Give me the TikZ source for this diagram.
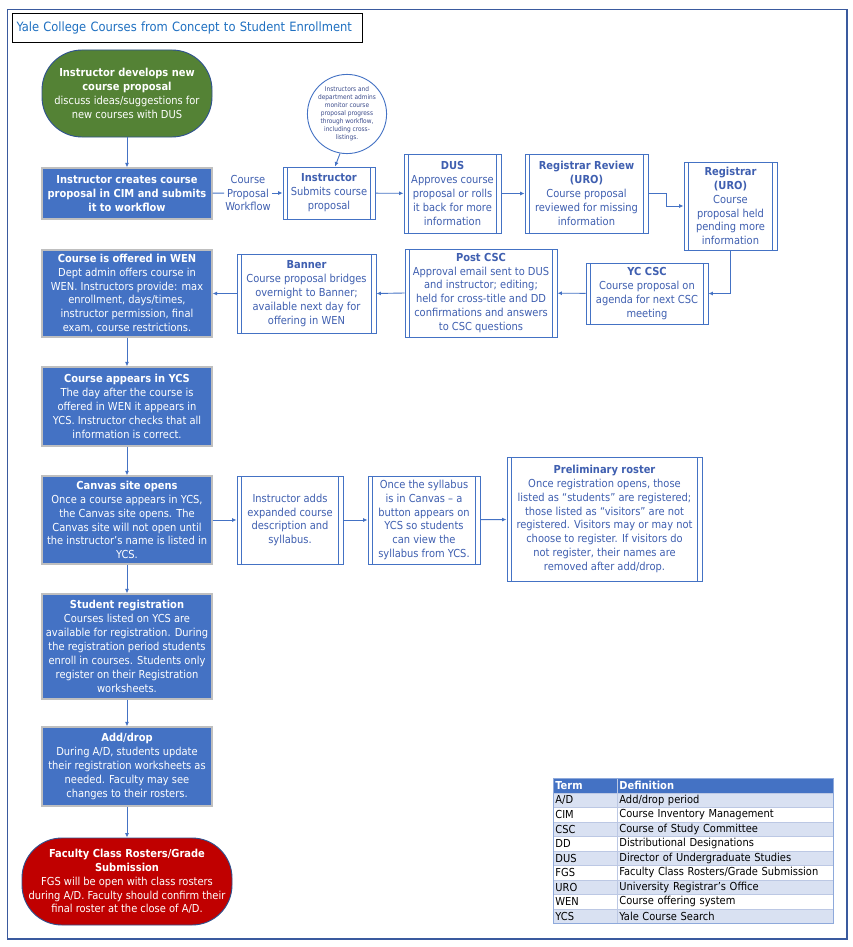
\documentclass[tikz,border=0pt]{standalone}
\usepackage{fontspec}
\setmainfont{DejaVu Sans Condensed}
\usetikzlibrary{arrows.meta,shapes.geometric,calc}
\definecolor{bfill}{HTML}{4472C4}
\definecolor{bgray}{HTML}{BFBFBF}
\definecolor{bcol}{HTML}{4472C4}
\definecolor{tcol}{HTML}{3F5FB0}
\definecolor{ccol}{HTML}{3A4A8A}
\definecolor{lcol}{HTML}{4472C4}
\definecolor{gfill}{HTML}{548235}
\definecolor{rfill}{HTML}{C00000}
\definecolor{sborder}{HTML}{2F528F}
\definecolor{titlecol}{HTML}{1F70C1}
\definecolor{framecol}{HTML}{3A5A9E}
\definecolor{lrow}{HTML}{D9E1F2}
\definecolor{lgrid}{HTML}{BCC8E4}
\definecolor{lout}{HTML}{8EA9DB}
\newcommand\mybody{\fontsize{11}{13.9}\selectfont}
\newcommand\mysmall{\fontsize{6.5}{8}\selectfont}
\newcommand\mytitle{\fontsize{12.8}{15}\selectfont}
\newcommand\mylegend{\fontsize{11}{12}\selectfont}
\tikzset{
  bluebox/.style={rectangle, fill=bfill, draw=bgray, line width=1.2pt, text=white, align=center, inner sep=1pt, font=\mybody},
  ppbox/.style={rectangle, draw=bcol, line width=0.9pt, fill=white, text=tcol, align=center, inner sep=1pt, font=\mybody,
    path picture={\draw[bcol, line width=0.9pt]
      ([xshift=4.5pt]path picture bounding box.north west) -- ([xshift=4.5pt]path picture bounding box.south west)
      ([xshift=-4.5pt]path picture bounding box.north east) -- ([xshift=-4.5pt]path picture bounding box.south east);}},
  stadium/.style={rectangle, rounded corners=40pt, draw=sborder, line width=0.9pt, text=white, align=center, inner sep=1pt, font=\mybody},
  arr/.style={draw=lcol, line width=0.9pt, -{Latex[length=4.5pt,width=4pt]}},
  tcell/.style={rectangle, draw=lgrid, line width=0.8pt, anchor=north west, minimum height=14.5pt, inner ysep=0pt, inner xsep=2pt, align=left, font=\mylegend, text=black},
}
\begin{document}
\begin{tikzpicture}[x=1pt,y=-1pt]
\useasboundingbox (0,0) rectangle (853,947);
\fill[white] (0,0) rectangle (853,947);
\draw[framecol, line width=1.1pt] (7.5,9.5) rectangle (847,939);

\node[draw=black, line width=1pt, anchor=north west, minimum height=29pt, text width=342pt, inner xsep=4pt, align=left, text=titlecol, font=\mytitle] (title) at (12,13) {Yale College Courses from Concept to Student Enrollment};

% left column
\node[stadium, fill=gfill, minimum width=170pt, minimum height=87pt] (start) at (127,93.5)
  {\textbf{Instructor develops new}\\\textbf{course proposal}\\discuss ideas/suggestions for\\new courses with DUS};
\node[bluebox, minimum width=170pt, minimum height=51pt] (cim) at (127,193.5)
  {\textbf{Instructor creates course}\\\textbf{proposal in CIM and submits}\\\textbf{it to workflow}};
\node[bluebox, minimum width=170pt, minimum height=87pt] (wen) at (127,293.5)
  {\textbf{Course is offered in WEN}\\Dept admin offers course in\\WEN. Instructors provide: max\\enrollment, days/times,\\instructor permission, final\\exam, course restrictions.};
\node[bluebox, minimum width=170pt, minimum height=79pt] (ycs) at (127,406.5)
  {\textbf{Course appears in YCS}\\The day after the course is\\offered in WEN it appears in\\YCS. Instructor checks that all\\information is correct.};
\node[bluebox, minimum width=170pt, minimum height=88pt] (canvas) at (127,520)
  {\textbf{Canvas site opens}\\Once a course appears in YCS,\\the Canvas site opens. The\\Canvas site will not open until\\the instructor’s name is listed in\\YCS.};
\node[bluebox, minimum width=170pt, minimum height=105pt] (stureg) at (127,646.5)
  {\textbf{Student registration}\\Courses listed on YCS are\\available for registration. During\\the registration period students\\enroll in courses. Students only\\register on their Registration\\worksheets.};
\node[bluebox, minimum width=170pt, minimum height=79pt] (adddrop) at (127,766.5)
  {\textbf{Add/drop}\\During A/D, students update\\their registration worksheets as\\needed. Faculty may see\\changes to their rosters.};
\node[stadium, fill=rfill, minimum width=210pt, minimum height=87pt] (fgs) at (127,881.5)
  {\textbf{Faculty Class Rosters/Grade}\\\textbf{Submission}\\FGS will be open with class rosters\\during A/D. Faculty should confirm their\\final roster at the close of A/D.};

% top row
\node[text=tcol, font=\mybody, align=center, inner sep=1pt] (lbl) at (248,193) {Course\\Proposal\\Workflow};
\node[ppbox, minimum width=92pt, minimum height=52pt] (instr) at (329,193)
  {\textbf{Instructor}\\Submits course\\proposal};
\node[circle, draw=bcol, line width=0.9pt, fill=white, minimum size=76pt, inner sep=0pt, text=ccol, align=center, font=\mysmall] (circ) at (347,114)
  {Instructors and\\department admins\\monitor course\\proposal progress\\through workflow,\\including cross-\\listings.};
\node[ppbox, minimum width=97pt, minimum height=79pt] (dus) at (452.5,193.5)
  {\textbf{DUS}\\Approves course\\proposal or rolls\\it back for more\\information};
\node[ppbox, minimum width=123pt, minimum height=79pt] (regrev) at (586.5,193.5)
  {\textbf{Registrar Review}\\\textbf{(URO)}\\Course proposal\\reviewed for missing\\information};
\node[ppbox, minimum width=93pt, minimum height=88pt] (reguro) at (730.5,206)
  {\textbf{Registrar}\\\textbf{(URO)}\\Course\\proposal held\\pending more\\information};

% second row
\node[ppbox, minimum width=122pt, minimum height=61pt] (yccsc) at (647,293.5)
  {\textbf{YC CSC}\\Course proposal on\\agenda for next CSC\\meeting};
\node[ppbox, minimum width=152pt, minimum height=88pt] (postcsc) at (481,293)
  {\textbf{Post CSC}\\Approval email sent to DUS\\and instructor; editing;\\held for cross-title and DD\\confirmations and answers\\to CSC questions};
\node[ppbox, minimum width=139pt, minimum height=79pt] (banner) at (306.5,293.5)
  {\textbf{Banner}\\Course proposal bridges\\overnight to Banner;\\available next day for\\offering in WEN};

% canvas row
\node[ppbox, minimum width=106pt, minimum height=88pt] (iadds) at (290,520)
  {Instructor adds\\expanded course\\description and\\syllabus.};
\node[ppbox, minimum width=112pt, minimum height=88pt] (syll) at (424,520)
  {Once the syllabus\\is in Canvas – a\\button appears on\\YCS so students\\can view the\\syllabus from YCS.};
\node[ppbox, minimum width=195pt, minimum height=124pt] (prelim) at (604.5,519)
  {\textbf{Preliminary roster}\\Once registration opens, those\\listed as “students” are registered;\\those listed as “visitors” are not\\registered. Visitors may or may not\\choose to register. If visitors do\\not register, their names are\\removed after add/drop.};

% connectors
\draw[arr] (start) -- (cim);
\draw[draw=lcol, line width=0.9pt] (cim) -- (lbl);
\draw[arr] (lbl) -- (instr);
\draw[arr] (circ.260) -- ([xshift=6pt]instr.north);
\draw[arr] (instr) -- (dus);
\draw[arr] (dus) -- (regrev);
\draw[arr] (regrev.east) -- ++(18,0) |- (reguro.west);
\draw[arr] (reguro.south) |- (yccsc.east);
\draw[arr] (yccsc) -- (postcsc);
\draw[arr] (postcsc.west) -- (banner.east);
\draw[arr] (banner.west) -- (wen.east);
\draw[arr] (wen) -- (ycs);
\draw[arr] (ycs) -- (canvas);
\draw[arr] (canvas) -- (stureg);
\draw[arr] (stureg) -- (adddrop);
\draw[arr] (adddrop) -- (fgs);
\draw[arr] (canvas) -- (iadds);
\draw[arr] (iadds) -- (syll);
\draw[arr] (syll) -- (prelim);

% legend
\node[tcell, fill=bfill, text=white, font=\mylegend\bfseries, text width=60pt] (h1) at (553,778) {Term};
\node[tcell, fill=bfill, text=white, font=\mylegend\bfseries, text width=212pt] (h2) at (617,778) {Definition};
\node[tcell, fill=lrow, text width=60pt] (t1) at (553,792.5) {A/D};
\node[tcell, fill=lrow, text width=212pt] (d1) at (617,792.5) {Add/drop period};
\node[tcell, fill=white, text width=60pt] (t2) at (553,807) {CIM};
\node[tcell, fill=white, text width=212pt] (d2) at (617,807) {Course Inventory Management};
\node[tcell, fill=lrow, text width=60pt] (t3) at (553,821.5) {CSC};
\node[tcell, fill=lrow, text width=212pt] (d3) at (617,821.5) {Course of Study Committee};
\node[tcell, fill=white, text width=60pt] (t4) at (553,836) {DD};
\node[tcell, fill=white, text width=212pt] (d4) at (617,836) {Distributional Designations};
\node[tcell, fill=lrow, text width=60pt] (t5) at (553,850.5) {DUS};
\node[tcell, fill=lrow, text width=212pt] (d5) at (617,850.5) {Director of Undergraduate Studies};
\node[tcell, fill=white, text width=60pt] (t6) at (553,865) {FGS};
\node[tcell, fill=white, text width=212pt] (d6) at (617,865) {Faculty Class Rosters/Grade Submission};
\node[tcell, fill=lrow, text width=60pt] (t7) at (553,879.5) {URO};
\node[tcell, fill=lrow, text width=212pt] (d7) at (617,879.5) {University Registrar’s Office};
\node[tcell, fill=white, text width=60pt] (t8) at (553,894) {WEN};
\node[tcell, fill=white, text width=212pt] (d8) at (617,894) {Course offering system};
\node[tcell, fill=lrow, text width=60pt] (t9) at (553,908.5) {YCS};
\node[tcell, fill=lrow, text width=212pt] (d9) at (617,908.5) {Yale Course Search};
\draw[lout, line width=0.9pt] (h1.north west) rectangle (d9.south east);
\end{tikzpicture}
\end{document}
